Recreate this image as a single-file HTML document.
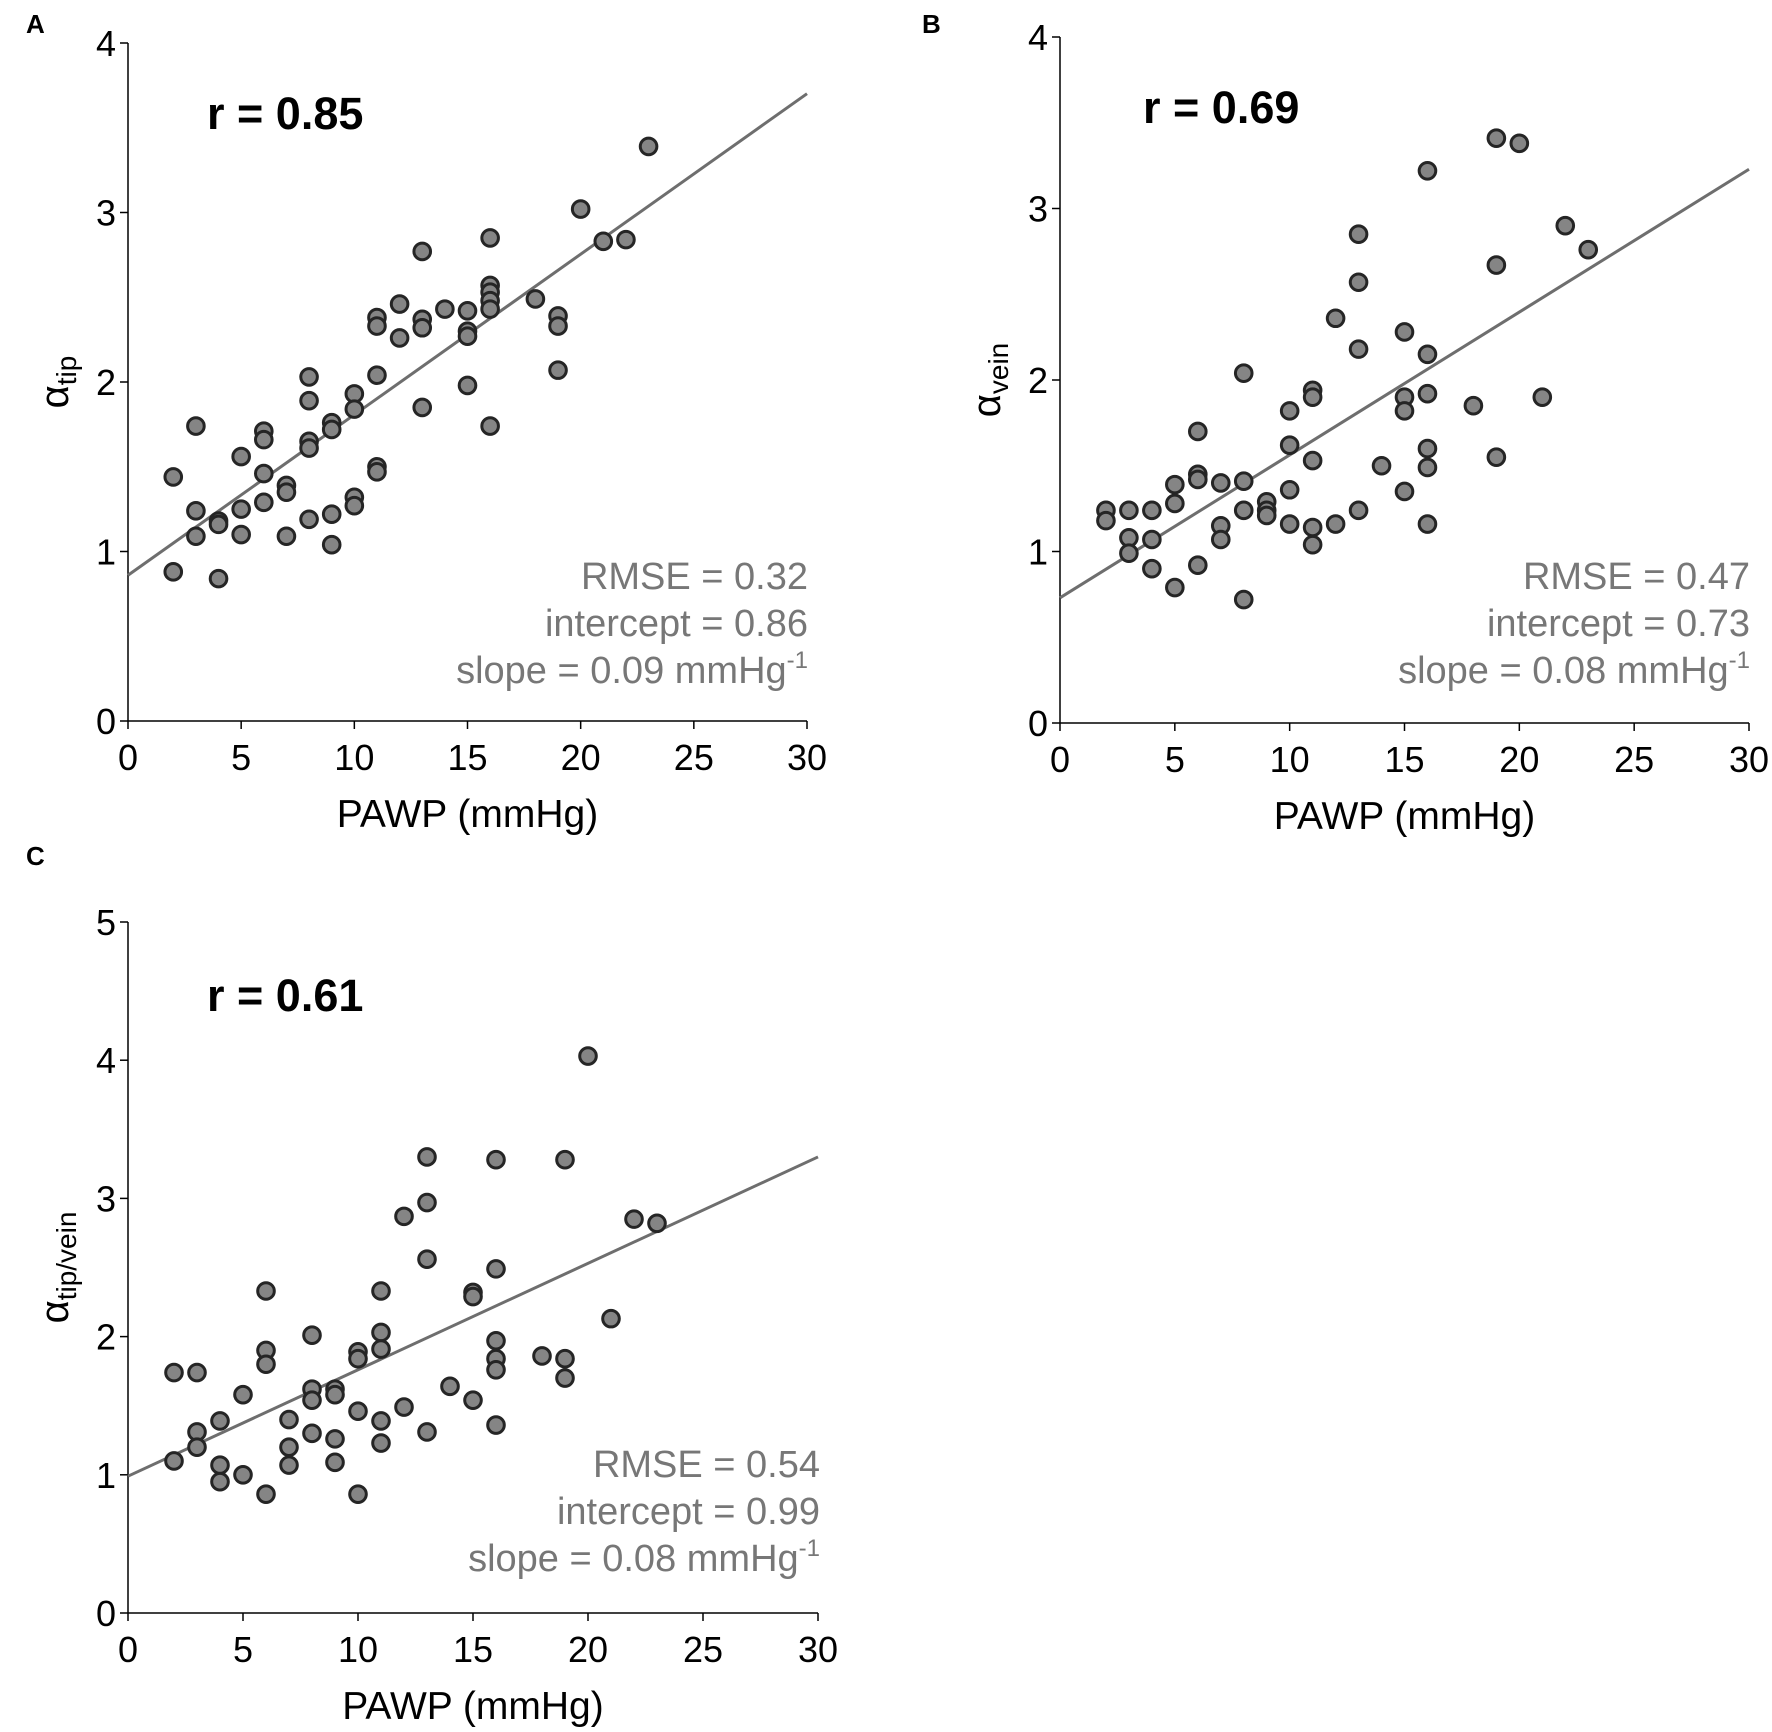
<!DOCTYPE html>
<html><head><meta charset="utf-8"><style>
html,body{margin:0;padding:0;background:#fff}
svg{display:block;font-family:"Liberation Sans",Arial,sans-serif}
</style></head><body>
<svg id="fig" width="1772" height="1732" viewBox="0 0 1772 1732" xmlns="http://www.w3.org/2000/svg"></svg>
<script>
const xTicks=[0,5,10,15,20,25,30];
const aX=[2,2,3,3,3,4,4,4,5,5,5,6,6,6,6,7,7,7,8,8,8,8,8,9,9,9,9,10,10,10,10,11,11,11,11,11,12,12,13,13,13,13,14,15,15,15,15,16,16,16,16,16,16,18,19,19,19,20,21,22,23];
const aY=[1.44,0.88,1.74,1.24,1.09,1.18,1.16,0.84,1.56,1.25,1.10,1.71,1.66,1.46,1.29,1.39,1.35,1.09,2.03,1.89,1.65,1.61,1.19,1.76,1.72,1.22,1.04,1.93,1.84,1.32,1.27,2.38,2.33,2.04,1.50,1.47,2.46,2.26,2.77,2.37,2.32,1.85,2.43,2.42,2.30,2.27,1.98,2.85,2.57,2.53,2.48,2.43,1.74,2.49,2.39,2.33,2.07,3.02,2.83,2.84,3.39];
const bX=[2,2,3,3,3,4,4,4,5,5,5,6,6,6,6,7,7,7,8,8,8,8,9,9,9,10,10,10,10,11,11,11,11,11,12,12,13,13,13,13,14,15,15,15,15,16,16,16,16,16,16,18,19,19,19,20,21,22,23];
const bY=[1.24,1.18,1.24,1.08,0.99,1.24,1.07,0.90,1.39,1.28,0.79,1.70,1.45,1.42,0.92,1.40,1.15,1.07,2.04,1.41,1.24,0.72,1.29,1.24,1.21,1.82,1.62,1.36,1.16,1.94,1.90,1.53,1.14,1.04,2.36,1.16,2.85,2.57,2.18,1.24,1.50,2.28,1.90,1.82,1.35,3.22,2.15,1.92,1.60,1.49,1.16,1.85,3.41,2.67,1.55,3.38,1.90,2.90,2.76];
const cX=[2,2,3,3,3,4,4,4,5,5,6,6,6,6,7,7,7,8,8,8,8,9,9,9,9,10,10,10,10,11,11,11,11,11,12,12,13,13,13,13,14,15,15,15,16,16,16,16,16,16,18,19,19,19,20,21,22,23];
const cY=[1.74,1.10,1.74,1.31,1.20,1.39,1.07,0.95,1.58,1.00,2.33,1.90,1.80,0.86,1.40,1.20,1.07,2.01,1.62,1.54,1.30,1.62,1.58,1.26,1.09,1.89,1.84,1.46,0.86,2.33,2.03,1.91,1.39,1.23,2.87,1.49,3.30,2.97,2.56,1.31,1.64,2.32,2.29,1.54,3.28,2.49,1.97,1.84,1.76,1.36,1.86,3.28,1.84,1.70,4.03,2.13,2.85,2.82];
const fitA=[0.86,0.0947];
const fitB=[0.73,0.0833];
const fitC=[0.99,0.0770];
const NS="http://www.w3.org/2000/svg";
const svg=document.getElementById('fig');
function mk(tag,attrs,parent,text){const e=document.createElementNS(NS,tag);for(const k in attrs)e.setAttribute(k,attrs[k]);if(text!==undefined)e.textContent=text;(parent||svg).appendChild(e);return e;}
function panel(o){
  const g=mk('g',{});
  
  
  const sx=v=>o.x0+(o.x1-o.x0)*v/30;
  const sy=v=>o.y0-(o.y0-o.y1)*v/o.ymax;
  const lab=mk('text',{x:o.lx,y:o.ly,'font-size':26,'font-weight':'bold'},g,o.id);
  
  
  const ax=mk('line',{x1:o.x0,y1:o.y0,x2:o.x1,y2:o.y0,stroke:'#000','stroke-width':1.5},g);
  
  
  const ay=mk('line',{x1:o.x0,y1:o.y0,x2:o.x0,y2:o.y1,stroke:'#000','stroke-width':1.5},g);
  
  
  xTicks.forEach(t=>{
    mk('line',{x1:sx(t),y1:o.y0,x2:sx(t),y2:o.y0+8,stroke:'#000','stroke-width':1.5},g);
    const tl=mk('text',{x:sx(t),y:o.y0+49,'font-size':36,'text-anchor':'middle'},g,t);
    
    
  });
  for(let t=0;t<=o.ymax;t++){
    mk('line',{x1:o.x0-8,y1:sy(t),x2:o.x0,y2:sy(t),stroke:'#000','stroke-width':1.5},g);
    const tl=mk('text',{x:o.x0-12,y:sy(t)+13,'font-size':36,'text-anchor':'end'},g,t);
    
    
  }
  const xt=mk('text',{x:(o.x0+o.x1)/2,y:o.y0+106,'font-size':39,'text-anchor':'middle'},g,'PAWP (mmHg)');
  
  
  const cy=(o.y0+o.y1)/2;
  const yt=mk('text',{x:0,y:0,'font-size':40,'text-anchor':'middle',transform:`translate(${o.x0-60},${cy}) rotate(-90)`},g);
  
  
  mk('tspan',{},yt,'α');
  mk('tspan',{'font-size':28,dy:8},yt,o.sub);
  const fit=o.fit;
  const fl=mk('line',{x1:sx(0),y1:sy(fit[0]),x2:sx(30),y2:sy(fit[0]+fit[1]*30),stroke:'#6e6e6e','stroke-width':3},g);
  
  
  o.xs.forEach((x,i)=>{
    const c=mk('circle',{cx:sx(x),cy:sy(o.ys[i]),r:8.3,fill:'#858585',stroke:'#252525','stroke-width':3},g);
    
    
  });
  const r=mk('text',{x:o.rx,y:o.ry,'font-size':45,'font-weight':'bold'},g,o.r);
  
  
  const sty={'font-size':38,fill:'#777','text-anchor':'end'};
  const t1=mk('text',Object.assign({x:o.tx,y:o.ty},sty),g,'RMSE = '+o.rmse);
  
  
  const t2=mk('text',Object.assign({x:o.tx,y:o.ty+47},sty),g,'intercept = '+fit[0].toFixed(2));
  
  
  const t3=mk('text',Object.assign({x:o.tx,y:o.ty+94},sty),g);
  
  
  mk('tspan',{},t3,'slope = '+o.slope+' mmHg');
  mk('tspan',{'font-size':24,dy:-15},t3,'-1');
}
panel({id:'A',x0:128,x1:807,y0:721,y1:43,ymax:4,lx:26,ly:33,sub:'tip',xs:aX,ys:aY,fit:fitA,r:'r = 0.85',rx:207,ry:129,tx:808,ty:589,rmse:'0.32',slope:'0.09'});
panel({id:'B',x0:1060,x1:1749,y0:723,y1:37,ymax:4,lx:922,ly:33,sub:'vein',xs:bX,ys:bY,fit:fitB,r:'r = 0.69',rx:1143,ry:123,tx:1750,ty:589,rmse:'0.47',slope:'0.08'});
panel({id:'C',x0:128,x1:818,y0:1613,y1:922,ymax:5,lx:26,ly:865,sub:'tip/vein',xs:cX,ys:cY,fit:fitC,r:'r = 0.61',rx:207,ry:1011,tx:820,ty:1477,rmse:'0.54',slope:'0.08'});
</script>
</body></html>
